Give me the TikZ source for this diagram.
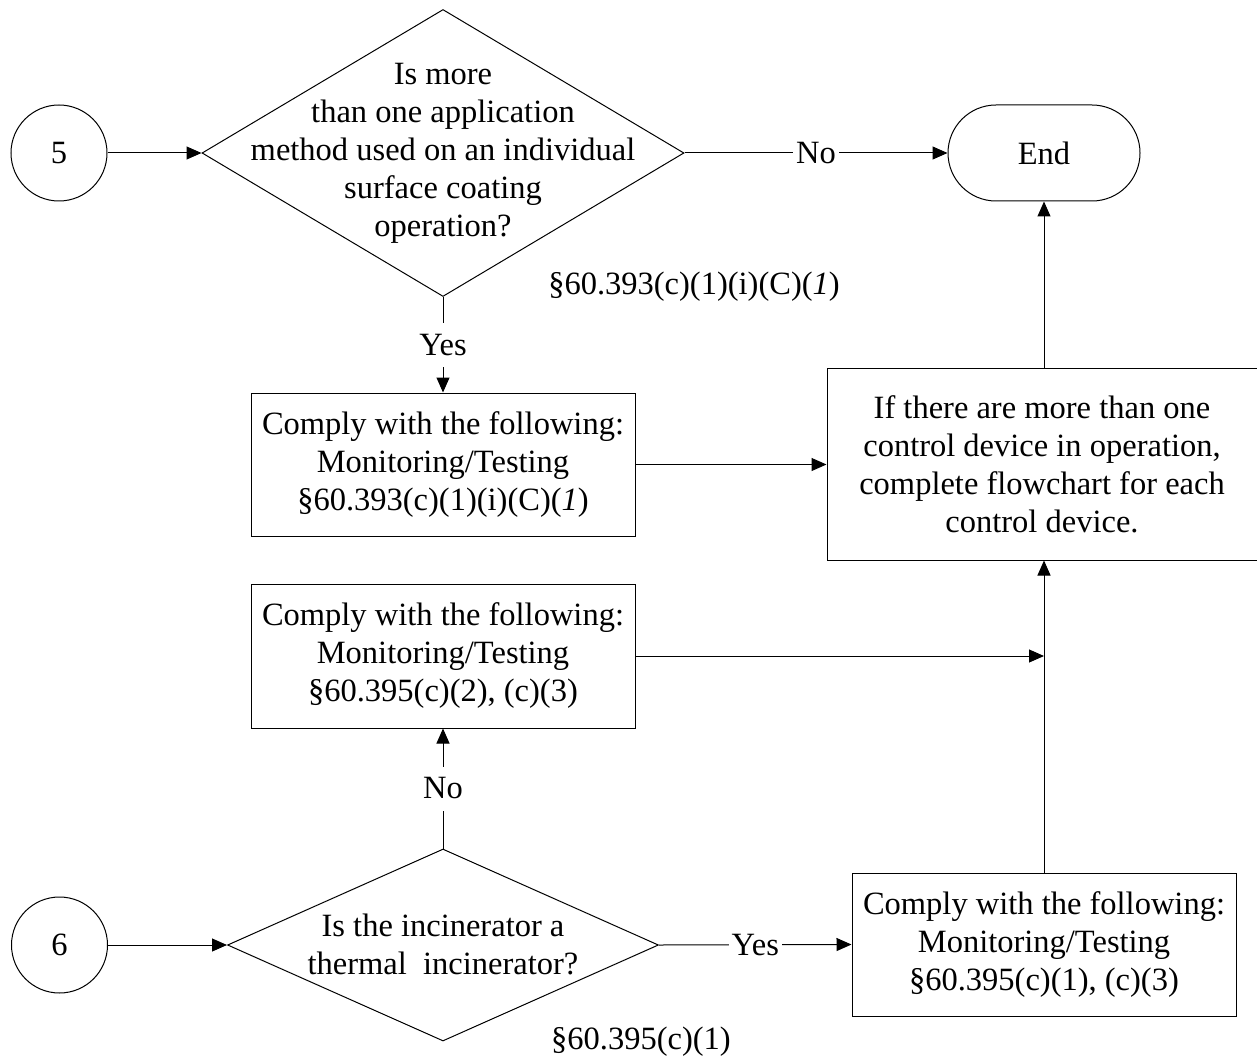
\documentclass[tikz,border=0pt]{standalone}
\usepackage{fontspec}
\setmainfont{Liberation Serif}
\usetikzlibrary{shapes.geometric,arrows.meta}
\begin{document}
\begin{tikzpicture}[x=1pt,y=-1pt,
  font=\fontsize{32.5}{38}\selectfont,
  line width=1pt,
  arr/.style={-{Triangle[length=15pt,width=13pt]}},
  boxnode/.style={draw,rectangle,inner sep=0pt,align=center},
  dia/.style={draw,diamond,inner sep=0pt},
  conn/.style={draw,circle,inner sep=0pt,minimum size=96pt},
  txt/.style={inner sep=0pt,align=center},
  lbl/.style={fill=white,inner xsep=3pt,inner ysep=0pt,minimum height=44pt}
]
\useasboundingbox (0,0) rectangle (1257,1059);

% top row
\node[conn] (c5) at (59,153) {5};
\node[dia,minimum width=482pt,minimum height=287pt] (d1) at (443,153) {};
\node[txt] (d1t) at (443,153) {Is more\\than one application\\method used on an individual\\surface coating\\operation?};
\node[draw,rectangle,rounded corners=48pt,minimum width=192pt,minimum height=96pt,inner sep=0pt] (end) at (1044,153) {End};
\node[txt] (ref1) at (694,287) {§60.393(c)(1)(i)(C)(\textit{1})};

\node[boxnode,minimum width=384pt,minimum height=143pt] (b1) at (443,464.5)
  {Comply with the following:\\Monitoring/Testing\\§60.393(c)(1)(i)(C)(\textit{1})};
\node[boxnode,minimum width=430pt,minimum height=192pt] (ctrl) at (1042,464)
  {If there are more than one\\control device in operation,\\complete flowchart for each\\control device.};

% bottom part
\node[boxnode,minimum width=384pt,minimum height=144pt] (b2) at (443,656)
  {Comply with the following:\\Monitoring/Testing\\§60.395(c)(2), (c)(3)};
\node[conn] (c6) at (59.5,945) {6};
\node[dia,minimum width=431pt,minimum height=192pt] (d2) at (443,945) {};
\node[txt] (d2t) at (443,944) {Is the incinerator a\\thermal\hspace{0.5em}incinerator?};
\node[txt] (ref2) at (641,1042) {§60.395(c)(1)};
\node[boxnode,minimum width=384pt,minimum height=143pt] (b3) at (1044,944.5)
  {Comply with the following:\\Monitoring/Testing\\§60.395(c)(1), (c)(3)};

\coordinate (j) at (b3.north |- b2.east);

% connectors
\draw[arr] (c5) -- (d1.west);
\draw[arr] (d1.east) -- node[lbl] (no1) {No} (end.west);
\draw[arr] (d1.south) -- node[lbl] (yes1) {Yes} (b1.north);
\draw[arr] (b1.east) -- (b1.east -| ctrl.west);
\draw[arr] (end.south |- ctrl.north) -- (end.south);
\draw[arr] (c6) -- (d2.west);
\draw[arr] (d2.north) -- node[lbl] (no2) {No} (b2.south);
\draw[arr] (d2.east) -- node[lbl] (yes2) {Yes} (b3.west);
\draw[arr] (b2.east) -- (j);
\draw[arr] (b3.north) -- (b3.north |- ctrl.south);
\end{tikzpicture}
\end{document}
